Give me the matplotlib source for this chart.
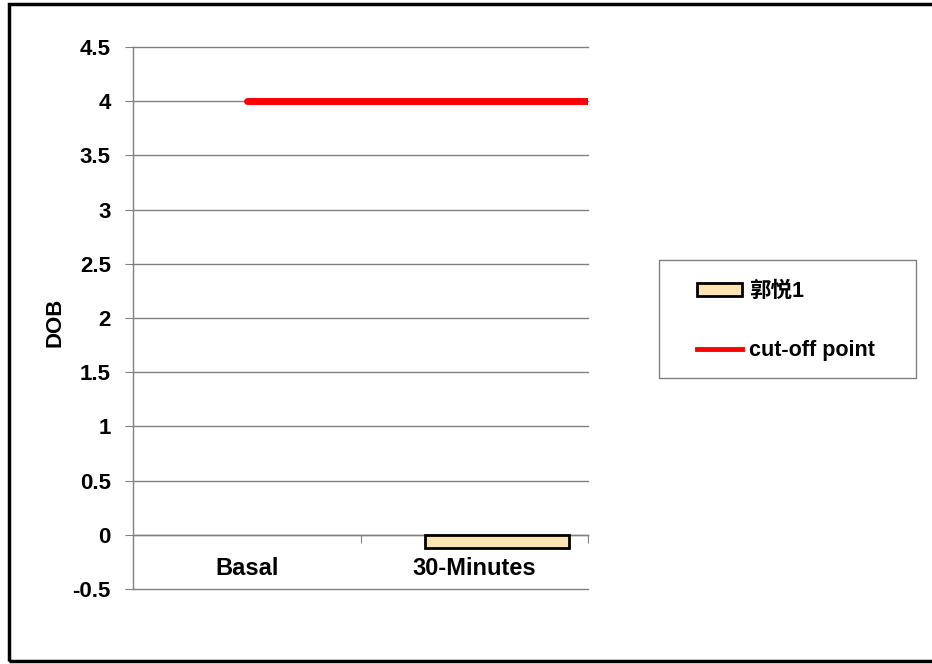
import numpy as np
import matplotlib
matplotlib.use("Agg")
import matplotlib.pyplot as plt
from matplotlib.patches import Rectangle
from matplotlib.lines import Line2D

plt.rcParams['font.family'] = ['Liberation Sans', 'Noto Sans CJK SC', 'DejaVu Sans']

# ---- data ----
categories = ["Basal", "30-Minutes"]
series_name = "郭悦1"
series_values = [np.nan, -0.12]
cutoff_name = "cut-off point"
cutoff_value = 4.0
y_ticks = [-0.5, 0, 0.5, 1, 1.5, 2, 2.5, 3, 3.5, 4, 4.5]
y_label = "DOB"

W, H = 932, 664
fig = plt.figure(figsize=(W / 100, H / 100), dpi=100)
ax = fig.add_axes([133 / W, 1 - 589 / H, (588 - 133) / W, (589 - 47) / H])

x = np.arange(len(categories))
bar_offset = 0.1
bar_width = 0.63
bar_color = "#FEE3B3"
ax.bar(x + bar_offset, series_values, width=bar_width, color=bar_color,
       edgecolor="black", linewidth=2.0, zorder=3)

ax.plot([x[0], len(categories) - 0.5], [cutoff_value, cutoff_value],
        color="#FF0000", linewidth=5.0, solid_capstyle="round", zorder=4)

ax.set_xlim(-0.5, len(categories) - 0.5)
ax.set_ylim(min(y_ticks), max(y_ticks))
ax.set_yticks(y_ticks)
ax.set_yticklabels([f"{v:g}" for v in y_ticks], fontsize=16, fontweight="bold")
ax.yaxis.grid(True, color="#808080", linewidth=1.0)
for gl in ax.get_ygridlines():
    gl.set_clip_on(False)
ax.set_axisbelow(True)

for s in ["top", "right"]:
    ax.spines[s].set_visible(False)
ax.spines["left"].set_color("#808080")
ax.spines["left"].set_linewidth(1.0)
ax.spines["bottom"].set_position(("data", 0))
ax.spines["bottom"].set_color("#808080")
ax.spines["bottom"].set_linewidth(1.0)
ax.tick_params(axis="y", direction="out", length=6, color="#808080", pad=10)
ax.set_xticks(np.arange(len(categories)) + 0.5)
ax.set_xticklabels([])
ax.tick_params(axis="x", direction="out", length=6, color="#808080")

for xi, c in zip(x, categories):
    ax.text(xi, -0.31, c, ha="center", va="center", fontsize=17, fontweight="bold")

ax.set_ylabel(y_label, fontsize=16, fontweight="bold")
ax.yaxis.set_label_coords((66 - 133) / (588 - 133), (589 - 322) / (589 - 47))

# legend
handles = [Rectangle((0, 0), 1, 1, facecolor=bar_color, edgecolor="black", linewidth=2.0),
           Line2D([0], [0], color="#FF0000", linewidth=3.5)]
leg = fig.legend(handles, [series_name, cutoff_name], loc="upper left",
                 bbox_to_anchor=(697 / W, 1 - 281 / H), frameon=False,
                 prop={"size": 15.5, "weight": "bold"}, handlelength=2.1,
                 handleheight=0.55, handletextpad=0.3, labelspacing=1.75,
                 borderpad=0, borderaxespad=0)
fig.patches.append(Rectangle((659 / W, 1 - 378 / H), (916 - 659) / W, (378 - 260) / H,
                             transform=fig.transFigure, fill=False,
                             edgecolor="#808080", linewidth=1.0))
# outer border
fig.patches.append(Rectangle((9 / W, 1 - 661 / H), 1.2, (661 - 4) / H,
                             transform=fig.transFigure, fill=False,
                             edgecolor="black", linewidth=2.5))

fig.savefig("out.png", dpi=100)
